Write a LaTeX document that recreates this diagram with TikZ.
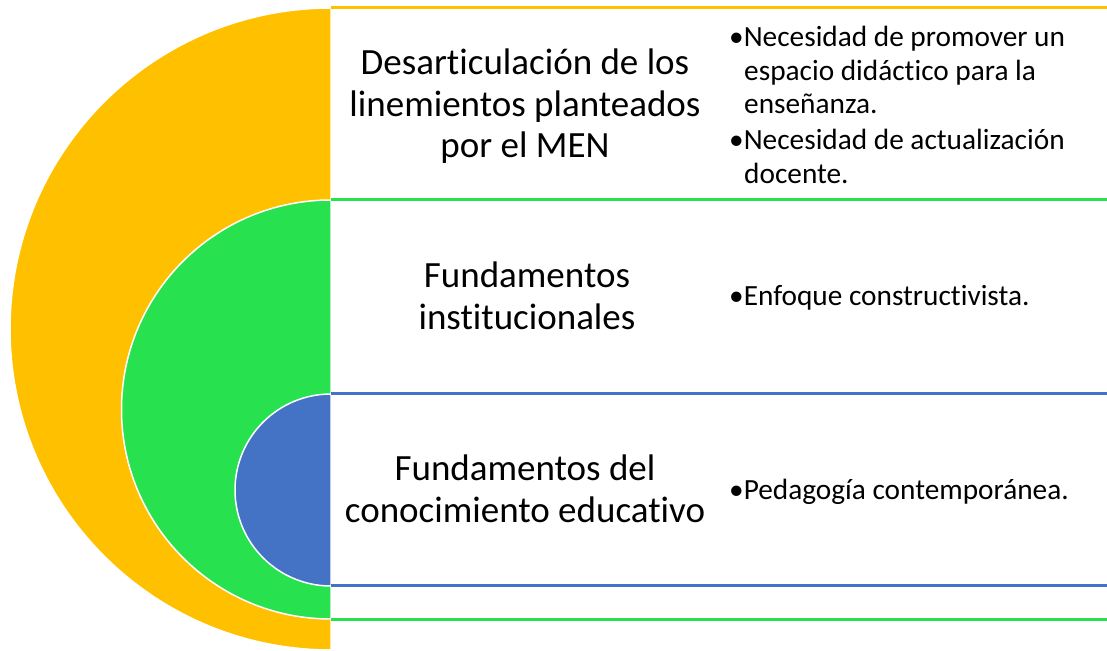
\documentclass[tikz,border=0pt]{standalone}
\usepackage{fontspec}
\setmainfont{Carlito}[RawFeature={-liga;-clig;-calt;-dlig}]
\definecolor{cyel}{HTML}{FFC000}
\definecolor{cgrn}{HTML}{27E24E}
\definecolor{cblu}{HTML}{4472C4}
\begin{document}
\begin{tikzpicture}[x=1pt,y=1pt,
  half/.style={draw=white,line width=1.5pt},
  band/.style={line width=3pt},
  lefttext/.style={align=center,font=\fontsize{37}{41.5}\selectfont,inner sep=0pt},
  righttext/.style={align=left,anchor=west,font=\fontsize{29.3}{33.5}\selectfont,inner sep=0pt}]
\useasboundingbox (0,0) rectangle (1107,650);
% semicircles
\fill[cyel,half] (331,642) arc[start angle=90,end angle=270,radius=321] -- cycle;
\fill[cgrn,half] (331,450) arc[start angle=90,end angle=270,radius=209.5] -- cycle;
\fill[cblu,half] (331,256) arc[start angle=90,end angle=270,radius=96] -- cycle;
% band lines
\coordinate (y1a) at (331,642); \coordinate (y1b) at (1107,642);
\coordinate (g1a) at (331,450); \coordinate (g1b) at (1107,450);
\coordinate (b1a) at (331,256); \coordinate (b1b) at (1107,256);
\coordinate (b2a) at (331,64);  \coordinate (b2b) at (1107,64);
\coordinate (g2a) at (331,31);  \coordinate (g2b) at (1107,31);
\draw[band,cyel] (y1a) -- (y1b);
\draw[band,cgrn] (g1a) -- (g1b);
\draw[band,cblu] (b1a) -- (b1b);
\draw[band,cblu] (b2a) -- (b2b);
\draw[band,cgrn] (g2a) -- (g2b);
% texts
\node[lefttext] (t1) at (525,543.5) {Desarticulación de los\\linemientos planteados\\por el MEN};
\node[lefttext] (t2) at (527,354) {Fundamentos\\institucionales};
\node[lefttext] (t3) at (525,161) {Fundamentos del\\conocimiento educativo};
\node[righttext] (r1) at (729,545) {•Necesidad de promover un\\\hspace*{15pt}espacio didáctico para la\\\hspace*{15pt}enseñanza.\\[2.5pt]•Necesidad de actualización\\\hspace*{15pt}docente.};
\node[righttext] (r2) at (729,352) {•Enfoque constructivista.};
\node[righttext] (r3) at (729,158) {•Pedagogía contemporánea.};
\end{tikzpicture}
\end{document}
